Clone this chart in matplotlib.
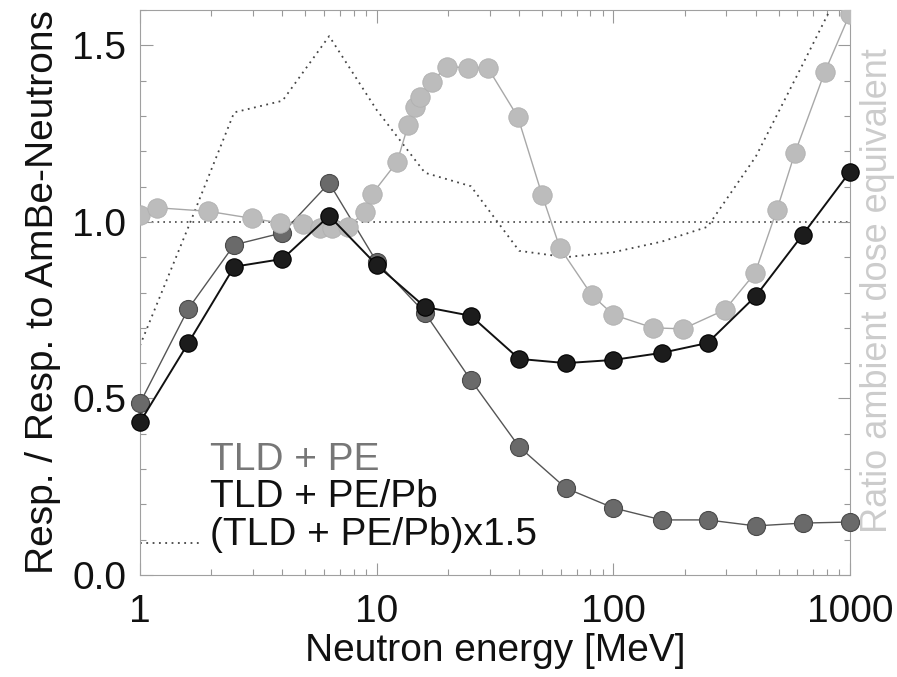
import matplotlib
matplotlib.use("Agg")
import matplotlib.pyplot as plt
from matplotlib.ticker import MultipleLocator, FixedLocator

plt.rcParams['font.family'] = ['Liberation Sans', 'DejaVu Sans']

energy = [1, 1.6, 2.5, 4, 6.3, 10, 16, 25, 40, 63, 100, 160, 250, 400, 630, 1000]
tld_pe = [0.487, 0.754, 0.935, 0.969, 1.11, 0.887, 0.742, 0.552, 0.363, 0.246,
          0.19, 0.156, 0.156, 0.139, 0.147, 0.150]
tld_pe_pb = [0.433, 0.657, 0.873, 0.895, 1.017, 0.878, 0.759, 0.734, 0.612, 0.600,
             0.609, 0.629, 0.657, 0.790, 0.963, 1.142]
tld_pe_pb_x15 = [0.65, 0.985, 1.31, 1.343, 1.526, 1.317, 1.139, 1.101, 0.918, 0.90,
                 0.914, 0.944, 0.986, 1.185, 1.445, 1.713]

h_energy = [1, 1.18, 1.94, 2.97, 3.9, 4.9, 5.76, 6.5, 7.6, 8.9, 9.6, 12.2, 13.6, 14.5,
            15.2, 17.1, 19.8, 24.3, 29.5, 39.5, 50, 59.5, 81, 100, 147, 197, 296, 397,
            491, 585, 783, 1000]
h_ratio = [1.02, 1.04, 1.03, 1.01, 0.997, 0.994, 0.983, 0.983, 0.986, 1.028, 1.08, 1.17,
           1.275, 1.326, 1.354, 1.397, 1.44, 1.436, 1.436, 1.297, 1.076, 0.926, 0.793,
           0.737, 0.70, 0.697, 0.751, 0.855, 1.034, 1.195, 1.425, 1.59]

xticks = [1, 10, 100, 1000]
xtick_labels = ['1', '10', '100', '1000']
yticks = [0.0, 0.5, 1.0, 1.5]
ytick_labels = ['0.0', '0.5', '1.0', '1.5']
legend_labels = ['TLD + PE', 'TLD + PE/Pb', '(TLD + PE/Pb)x1.5']

FS = 28

fig = plt.figure(figsize=(8.97, 6.77), dpi=100)
ax = fig.add_axes([140/897, 1 - 575/677, 710/897, 565/677])
ax.set_xscale('log')
ax.set_xlim(1, 1000)
ax.set_ylim(0, 1.6)

c_pe = '#6a6a6a'
c_pb = '#1c1c1c'
c_h = '#bcbcbc'
c_dot = '#444444'

ax.plot([1, 1000], [1.0, 1.0], linestyle=(0, (1, 2.5)), color=c_dot, lw=1.2, zorder=1)
ax.plot(energy, tld_pe_pb_x15, linestyle=(0, (1, 2.5)), color=c_dot, lw=1.3, zorder=2)

ax.plot(energy, tld_pe, '-o', color='#555555', lw=1.0, ms=13,
        mfc=c_pe, mec='#4a4a4a', mew=0.8, zorder=3, clip_on=False)
ax.plot(h_energy, h_ratio, '-o', color='#a8a8a8', lw=1.0, ms=14,
        mfc=c_h, mec='#b0b0b0', mew=0.6, zorder=4, clip_on=True)
ax.plot(energy, tld_pe_pb, '-o', color='#111111', lw=1.4, ms=12.5,
        mfc=c_pb, mec='#000000', mew=0.8, zorder=5, clip_on=False)

for sp in ax.spines.values():
    sp.set_color('#a0a0a0')
    sp.set_linewidth(0.8)
    sp.set_linestyle((0, (1, 1)))

ax.xaxis.set_major_locator(FixedLocator(xticks))
ax.set_xticklabels(xtick_labels)
ax.yaxis.set_major_locator(FixedLocator(yticks))
ax.set_yticklabels(ytick_labels)
ax.yaxis.set_minor_locator(MultipleLocator(0.1))
ax.tick_params(axis='both', which='both', direction='in', color='#999999',
               top=True, right=True, labelsize=FS, labelcolor='#111111')
ax.tick_params(axis='both', which='major', length=9, width=0.8)
ax.tick_params(axis='both', which='minor', length=4, width=0.8)
ax.tick_params(axis='x', which='major', pad=14)
ax.tick_params(axis='y', which='major', pad=10)

ax.set_xlabel('Neutron energy [MeV]', fontsize=FS, color='#111111', labelpad=2)
ax.set_ylabel('Resp. / Resp. to AmBe-Neutrons', fontsize=FS, color='#111111', labelpad=8)
ax.text(1.039, 0.504, 'Ratio ambient dose equivalent', transform=ax.transAxes,
        rotation=90, fontsize=26, color='#cccccc', ha='center', va='center')

# legend
ax.text(0.099, 0.186, legend_labels[0], transform=ax.transAxes, fontsize=FS,
        color='#777777', va='baseline')
ax.text(0.099, 0.120, legend_labels[1], transform=ax.transAxes, fontsize=FS,
        color='#111111', va='baseline')
ax.text(0.099, 0.053, legend_labels[2], transform=ax.transAxes, fontsize=FS,
        color='#111111', va='baseline')
ax.plot([0.0, 0.085], [0.057, 0.057], transform=ax.transAxes, linestyle=(0, (1, 2.5)),
        color=c_dot, lw=1.3, clip_on=False)

fig.savefig('out.png', dpi=100)
